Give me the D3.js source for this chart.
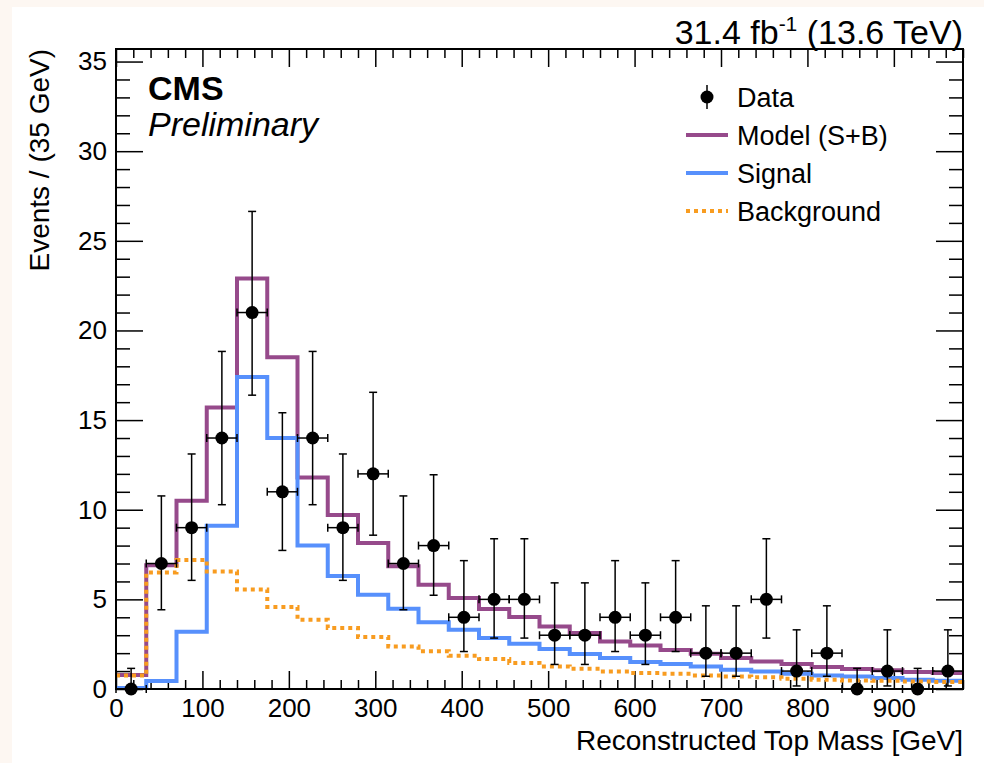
<!DOCTYPE html>
<html>
<head>
<meta charset="utf-8">
<script src="https://cdn.jsdelivr.net/npm/d3@7"></script>
<style>
  body { margin: 0; background: #fdf7f2; }
  svg { display: block; }
  text { font-family: "Liberation Sans", Arial, Helvetica, sans-serif; fill: #000; }
</style>
</head>
<body>
<div class="chart"></div>
<script>
// bin edges (35 GeV bins)
var binEdges = [0, 35, 70, 105, 140, 175, 210, 245, 280, 315, 350, 385, 420, 455, 490,
  525, 560, 595, 630, 665, 700, 735, 770, 805, 840, 875, 910, 945, 980];

// observed events per bin and the error bar bounds
var dataCounts = [0, 7, 9, 14, 21, 11, 14, 9, 12, 7, 8, 4, 5, 5, 3, 3, 4, 3, 4, 2, 2, 5, 1, 2, 0, 1, 0, 1];
var dataLow = [0, 4.42, 6.06, 10.28, 16.39, 7.73, 10.28, 6.06, 8.58, 4.42, 5.23, 2.09, 2.84, 2.84,
  1.37, 1.37, 2.09, 1.37, 2.09, 0.71, 0.71, 2.84, 0.17, 0.71, 0, 0.17, 0, 0.17];
var dataHigh = [1.15, 10.77, 13.11, 18.83, 26.64, 15.41, 18.83, 13.11, 16.55, 10.77, 11.95, 7.16, 8.38, 8.38,
  5.92, 5.92, 7.16, 5.92, 7.16, 4.64, 4.64, 8.38, 3.30, 4.64, 1.15, 3.30, 1.15, 3.30];

// fitted shapes
var modelSB = [0.78, 6.9, 10.5, 15.7, 22.9, 18.5, 11.8, 9.7, 8.15, 6.85, 5.81, 5.07, 4.46, 4.01,
  3.49, 3.12, 2.65, 2.43, 2.17, 1.97, 1.73, 1.54, 1.39, 1.23, 1.11, 1.04, 0.95, 0.89];
var signal = [0.05, 0.45, 3.2, 9.1, 17.4, 14.0, 8.0, 6.3, 5.26, 4.48, 3.73, 3.3, 2.84, 2.52,
  2.23, 1.95, 1.73, 1.5, 1.4, 1.26, 1.08, 0.98, 0.85, 0.76, 0.70, 0.61, 0.52, 0.46];
var background = [0.75, 6.5, 7.2, 6.55, 5.55, 4.58, 3.86, 3.4, 2.9, 2.37, 2.1, 1.86, 1.67, 1.45,
  1.26, 1.13, 0.98, 0.89, 0.85, 0.76, 0.7, 0.66, 0.57, 0.52, 0.48, 0.46, 0.42, 0.39];

var xMajor = [0, 100, 200, 300, 400, 500, 600, 700, 800, 900];
var yMajor = [0, 5, 10, 15, 20, 25, 30, 35];
var legendNames = ["Data", "Model (S+B)", "Signal", "Background"];

var svgWidth = 984;
var svgHeight = 763;
var plotL = 116, plotR = 963, plotT = 49, plotB = 689;

var colModel = "#964a8b", colSig = "#5790fc", colBkg = "#f89c20";

var svg = d3.select(".chart")
  .append("svg")
  .attr("width", svgWidth)
  .attr("height", svgHeight);

// white canvas with the cream strip on top/left
svg.append("rect")
  .attr("x", 12).attr("y", 7)
  .attr("width", svgWidth - 12).attr("height", svgHeight - 7)
  .attr("fill", "#fff");

var x = d3.scaleLinear().domain([0, 980]).range([plotL, plotR]);
var y = d3.scaleLinear().domain([0, 35.7]).range([plotB, plotT]);

// minor tick values
var xMinor = d3.range(0, 981, 20).filter(function(d) { return d % 100 !== 0; });
var yMinor = d3.range(0, 36, 1).filter(function(d) { return d % 5 !== 0; });

function styleAxis(g) {
  g.select(".domain").remove();
  g.selectAll("line").attr("stroke", "#000").attr("stroke-width", 1.5);
  g.selectAll("text").attr("font-size", "26px")
    .attr("font-family", "'Liberation Sans', Arial, sans-serif").attr("fill", "#000");
}

// bottom
svg.append("g").attr("transform", "translate(0," + plotB + ")")
  .call(d3.axisBottom(x).tickValues(xMajor).tickSizeInner(-18).tickSizeOuter(0).tickPadding(10).tickFormat(d3.format("d")))
  .call(styleAxis);
svg.append("g").attr("transform", "translate(0," + plotB + ")")
  .call(d3.axisBottom(x).tickValues(xMinor).tickSizeInner(-9).tickSizeOuter(0).tickFormat(""))
  .call(styleAxis);
// top
svg.append("g").attr("transform", "translate(0," + plotT + ")")
  .call(d3.axisTop(x).tickValues(xMajor).tickSizeInner(-18).tickSizeOuter(0).tickFormat(""))
  .call(styleAxis);
svg.append("g").attr("transform", "translate(0," + plotT + ")")
  .call(d3.axisTop(x).tickValues(xMinor).tickSizeInner(-9).tickSizeOuter(0).tickFormat(""))
  .call(styleAxis);
// left
svg.append("g").attr("transform", "translate(" + plotL + ",0)")
  .call(d3.axisLeft(y).tickValues(yMajor).tickSizeInner(-27).tickSizeOuter(0).tickPadding(9).tickFormat(d3.format("d")))
  .call(styleAxis);
svg.append("g").attr("transform", "translate(" + plotL + ",0)")
  .call(d3.axisLeft(y).tickValues(yMinor).tickSizeInner(-14).tickSizeOuter(0).tickFormat(""))
  .call(styleAxis);
// right
svg.append("g").attr("transform", "translate(" + plotR + ",0)")
  .call(d3.axisRight(y).tickValues(yMajor).tickSizeInner(-27).tickSizeOuter(0).tickFormat(""))
  .call(styleAxis);
svg.append("g").attr("transform", "translate(" + plotR + ",0)")
  .call(d3.axisRight(y).tickValues(yMinor).tickSizeInner(-14).tickSizeOuter(0).tickFormat(""))
  .call(styleAxis);

// step histograms
var step = d3.line()
  .x(function(d) { return x(d[0]); })
  .y(function(d) { return y(d[1]); })
  .curve(d3.curveStepAfter);

function stepPoints(vals) {
  var pts = vals.map(function(v, i) { return [binEdges[i], v]; });
  pts.push([binEdges[vals.length], vals[vals.length - 1]]);
  return pts;
}

svg.append("path").attr("d", step(stepPoints(modelSB)))
  .attr("fill", "none").attr("stroke", colModel).attr("stroke-width", 4);
svg.append("path").attr("d", step(stepPoints(signal)))
  .attr("fill", "none").attr("stroke", colSig).attr("stroke-width", 4);
svg.append("path").attr("d", step(stepPoints(background)))
  .attr("fill", "none").attr("stroke", colBkg).attr("stroke-width", 4)
  .attr("stroke-dasharray", "4,4");

// data points with error bars
var pointData = dataCounts.map(function(n, i) {
  return { n: n, lo: dataLow[i], hi: dataHigh[i], x0: binEdges[i], x1: binEdges[i + 1] };
});

var pts = svg.append("g").selectAll("g")
  .data(pointData)
  .enter().append("g")
  .attr("stroke", "#000").attr("stroke-width", 1.5);

function cx(d) { return x((d.x0 + d.x1) / 2); }

pts.append("line")
  .attr("x1", cx).attr("x2", cx)
  .attr("y1", function(d) { return y(d.lo); })
  .attr("y2", function(d) { return y(d.hi); });
pts.append("line")
  .attr("x1", function(d) { return cx(d) - 4; })
  .attr("x2", function(d) { return cx(d) + 4; })
  .attr("y1", function(d) { return y(d.hi); })
  .attr("y2", function(d) { return y(d.hi); });
pts.filter(function(d) { return d.lo > 0; }).append("line")
  .attr("x1", function(d) { return cx(d) - 4; })
  .attr("x2", function(d) { return cx(d) + 4; })
  .attr("y1", function(d) { return y(d.lo); })
  .attr("y2", function(d) { return y(d.lo); });
// horizontal bin-width bars
pts.append("line")
  .attr("x1", function(d) { return x(d.x0); })
  .attr("x2", function(d) { return x(d.x1); })
  .attr("y1", function(d) { return y(d.n); })
  .attr("y2", function(d) { return y(d.n); });
pts.append("line")
  .attr("x1", function(d) { return x(d.x0); })
  .attr("x2", function(d) { return x(d.x0); })
  .attr("y1", function(d) { return y(d.n) - 4; })
  .attr("y2", function(d) { return y(d.n) + 4; });
pts.append("line")
  .attr("x1", function(d) { return x(d.x1); })
  .attr("x2", function(d) { return x(d.x1); })
  .attr("y1", function(d) { return y(d.n) - 4; })
  .attr("y2", function(d) { return y(d.n) + 4; });
pts.append("circle")
  .attr("cx", cx)
  .attr("cy", function(d) { return y(d.n); })
  .attr("r", 6.5)
  .attr("stroke", "none")
  .attr("fill", "#000");

// frame
svg.append("rect")
  .attr("x", plotL).attr("y", plotT)
  .attr("width", plotR - plotL).attr("height", plotB - plotT)
  .attr("fill", "none").attr("stroke", "#000").attr("stroke-width", 2);

// axis titles
svg.append("text")
  .attr("x", plotR).attr("y", 750)
  .attr("text-anchor", "end")
  .attr("font-size", "28px")
  .text("Reconstructed Top Mass [GeV]");
svg.append("text")
  .attr("transform", "translate(49," + plotT + ") rotate(-90)")
  .attr("text-anchor", "end")
  .attr("font-size", "28px")
  .text("Events / (35 GeV)");

// lumi label
var lumi = svg.append("text")
  .attr("x", plotR).attr("y", 44)
  .attr("text-anchor", "end")
  .attr("font-size", "34px");
lumi.append("tspan").text("31.4 fb");
lumi.append("tspan").attr("font-size", "21px").attr("dy", -13).text("-1");
lumi.append("tspan").attr("dy", 13).text(" (13.6 TeV)");

// CMS label
svg.append("text")
  .attr("x", 148).attr("y", 100)
  .attr("font-size", "34px").attr("font-weight", "bold")
  .text("CMS");
svg.append("text")
  .attr("x", 148).attr("y", 136)
  .attr("font-size", "34px").attr("font-style", "italic")
  .text("Preliminary");

// legend
var legY = [97, 135, 173, 211];
var legend = svg.append("g");
legend.append("line")
  .attr("x1", 707).attr("x2", 707)
  .attr("y1", legY[0] - 12).attr("y2", legY[0] + 12)
  .attr("stroke", "#000").attr("stroke-width", 1.5);
legend.append("circle")
  .attr("cx", 707).attr("cy", legY[0]).attr("r", 6.5).attr("fill", "#000");
[colModel, colSig, colBkg].forEach(function(c, i) {
  var l = legend.append("line")
    .attr("x1", 686).attr("x2", 728)
    .attr("y1", legY[i + 1]).attr("y2", legY[i + 1])
    .attr("stroke", c).attr("stroke-width", 4);
  if (i === 2) l.attr("stroke-dasharray", "4,4");
});
legend.selectAll("text")
  .data(legendNames)
  .enter().append("text")
  .attr("x", 737)
  .attr("y", function(d, i) { return legY[i] + 10; })
  .attr("font-size", "27px")
  .text(function(d) { return d; });
</script>
</body>
</html>
